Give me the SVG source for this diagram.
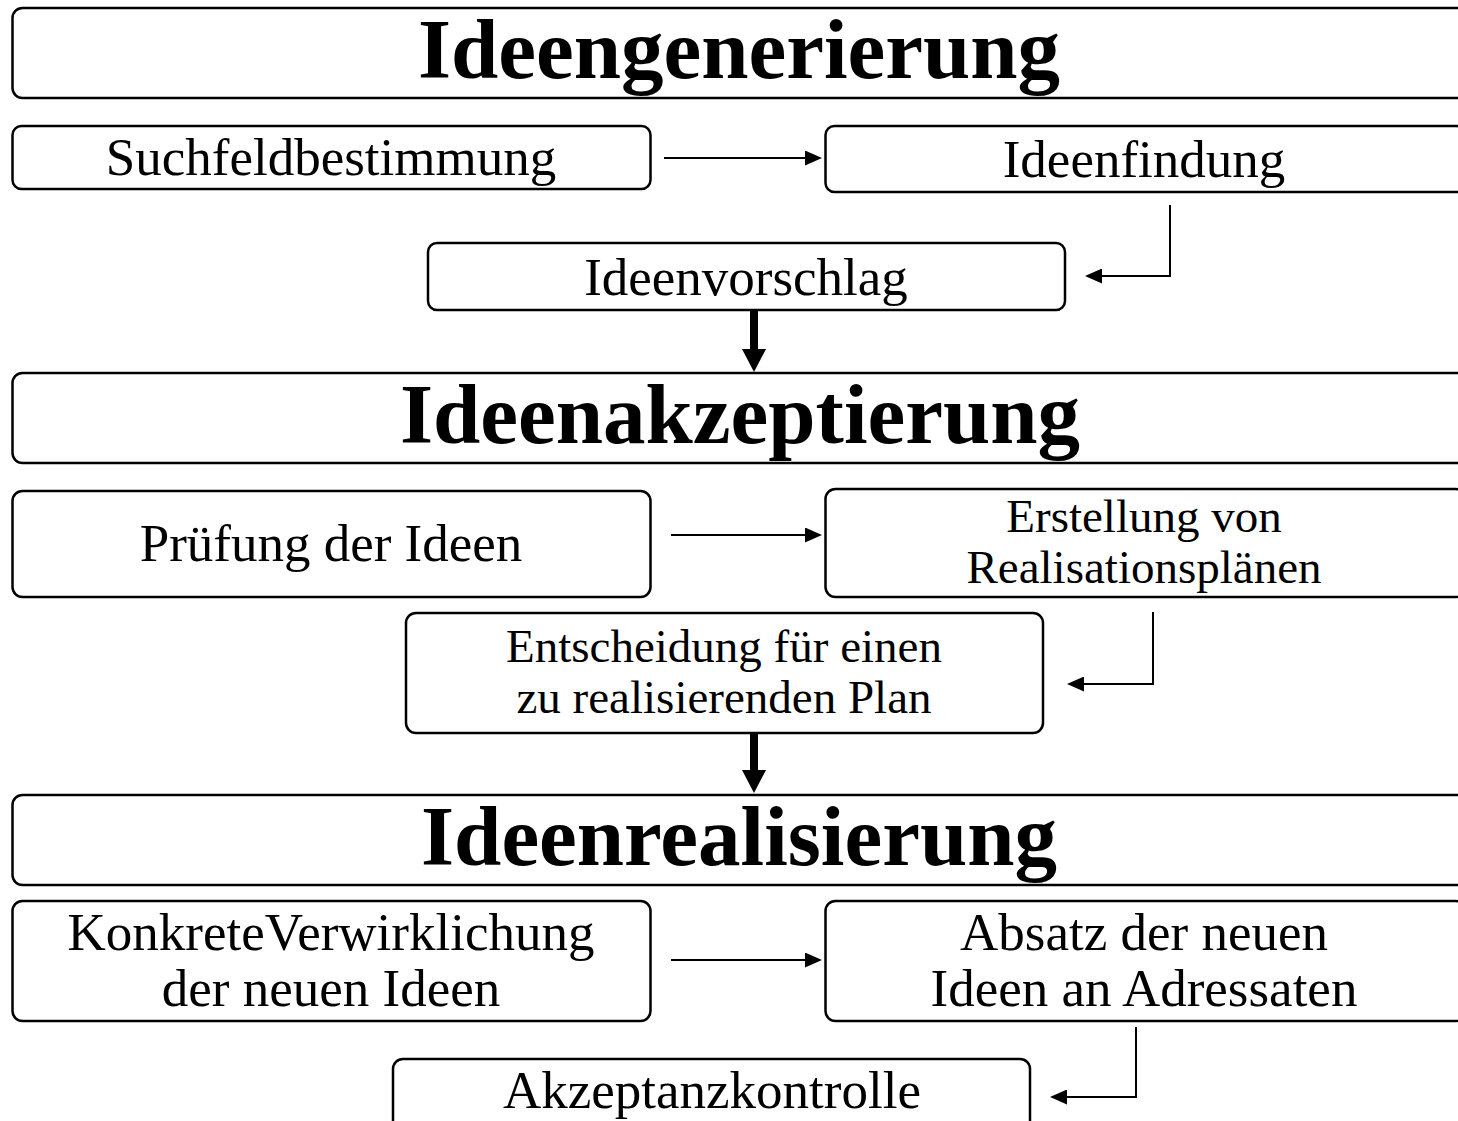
<svg xmlns="http://www.w3.org/2000/svg" width="1458" height="1121" viewBox="0 0 1458 1121">
  <style>
    .box { fill: #fff; stroke: #000; stroke-width: 2.5; }
    .head { font-family: "Liberation Serif", "Times New Roman", serif; font-weight: bold; font-size: 85px; text-anchor: middle; fill: #000; }
    .lbl { font-family: "Liberation Serif", "Times New Roman", serif; font-size: 53px; text-anchor: middle; fill: #000; }
    .lbl2 { font-family: "Liberation Serif", "Times New Roman", serif; font-size: 47px; text-anchor: middle; fill: #000; }
    .thin { fill: none; stroke: #000; stroke-width: 2; }
    .thick { fill: none; stroke: #000; stroke-width: 8; }
  </style>
  <defs>
    <!-- small arrowhead: 17 long, 15 wide -->
    <marker id="ah" viewBox="0 0 17 15" refX="15" refY="7.5" markerWidth="17" markerHeight="15" markerUnits="userSpaceOnUse" orient="auto">
      <path d="M0,0 L17,7.5 L0,15 Z" fill="#000"/>
    </marker>
    <!-- large arrowhead for the phase transitions: 23 long, 24 wide -->
    <marker id="ahBig" viewBox="0 0 23 24" refX="4" refY="12" markerWidth="23" markerHeight="24" markerUnits="userSpaceOnUse" orient="auto">
      <path d="M0,0 L23,12 L0,24 Z" fill="#000"/>
    </marker>
  </defs>
  <rect width="1458" height="1121" fill="#fff"/>

  <!-- Phase 1 -->
  <g id="ideengenerierung">
    <rect class="box" x="12.5" y="8" width="1454" height="90" rx="10"/>
    <text class="head" x="739" y="78">Ideengenerierung</text>
  </g>
  <g id="suchfeldbestimmung">
    <rect class="box" x="12.5" y="126" width="638" height="63" rx="9"/>
    <text class="lbl" x="331" y="175">Suchfeldbestimmung</text>
  </g>
  <g id="ideenfindung">
    <rect class="box" x="825.5" y="126" width="640" height="66" rx="9"/>
    <text class="lbl" x="1144" y="177">Ideenfindung</text>
  </g>
  <g id="ideenvorschlag">
    <rect class="box" x="428" y="243" width="637" height="67" rx="9"/>
    <text class="lbl" x="746" y="295">Ideenvorschlag</text>
  </g>

  <!-- Phase 2 -->
  <g id="ideenakzeptierung">
    <rect class="box" x="12.5" y="373" width="1454" height="90" rx="10"/>
    <text class="head" x="740" y="443">Ideenakzeptierung</text>
  </g>
  <g id="pruefung">
    <rect class="box" x="12.5" y="491" width="638" height="106" rx="10"/>
    <text class="lbl" x="331" y="561">Prüfung der Ideen</text>
  </g>
  <g id="realisationsplaene">
    <rect class="box" x="825.5" y="489" width="640" height="108" rx="10"/>
    <text class="lbl2" x="1144" y="532">Erstellung von</text>
    <text class="lbl2" x="1144" y="583">Realisationsplänen</text>
  </g>
  <g id="entscheidung">
    <rect class="box" x="406" y="613" width="637" height="120" rx="10"/>
    <text class="lbl2" x="724" y="662">Entscheidung für einen</text>
    <text class="lbl2" x="724" y="713">zu realisierenden Plan</text>
  </g>

  <!-- Phase 3 -->
  <g id="ideenrealisierung">
    <rect class="box" x="12.5" y="795" width="1454" height="90" rx="10"/>
    <text class="head" x="739" y="865">Ideenrealisierung</text>
  </g>
  <g id="verwirklichung">
    <rect class="box" x="12.5" y="901" width="638" height="120" rx="10"/>
    <text class="lbl" x="331" y="950">KonkreteVerwirklichung</text>
    <text class="lbl" x="331" y="1006">der neuen Ideen</text>
  </g>
  <g id="absatz">
    <rect class="box" x="825.5" y="901" width="640" height="120" rx="10"/>
    <text class="lbl" x="1144" y="950">Absatz der neuen</text>
    <text class="lbl" x="1144" y="1006">Ideen an Adressaten</text>
  </g>
  <g id="akzeptanzkontrolle">
    <rect class="box" x="393" y="1059" width="637" height="100" rx="10"/>
    <text class="lbl" x="712" y="1108">Akzeptanzkontrolle</text>
  </g>

  <!-- Connectors -->
  <g id="connectors">
    <line class="thin" x1="664" y1="158" x2="820" y2="158" marker-end="url(#ah)"/>
    <polyline class="thin" points="1170,205 1170,276 1087,276" marker-end="url(#ah)"/>
    <line class="thick" x1="754" y1="310" x2="754" y2="353" marker-end="url(#ahBig)"/>
    <line class="thin" x1="671" y1="535" x2="820" y2="535" marker-end="url(#ah)"/>
    <polyline class="thin" points="1153,612 1153,684 1069,684" marker-end="url(#ah)"/>
    <line class="thick" x1="754" y1="733" x2="754" y2="774" marker-end="url(#ahBig)"/>
    <line class="thin" x1="671" y1="960" x2="820" y2="960" marker-end="url(#ah)"/>
    <polyline class="thin" points="1136,1027 1136,1097 1052,1097" marker-end="url(#ah)"/>
  </g>
</svg>
